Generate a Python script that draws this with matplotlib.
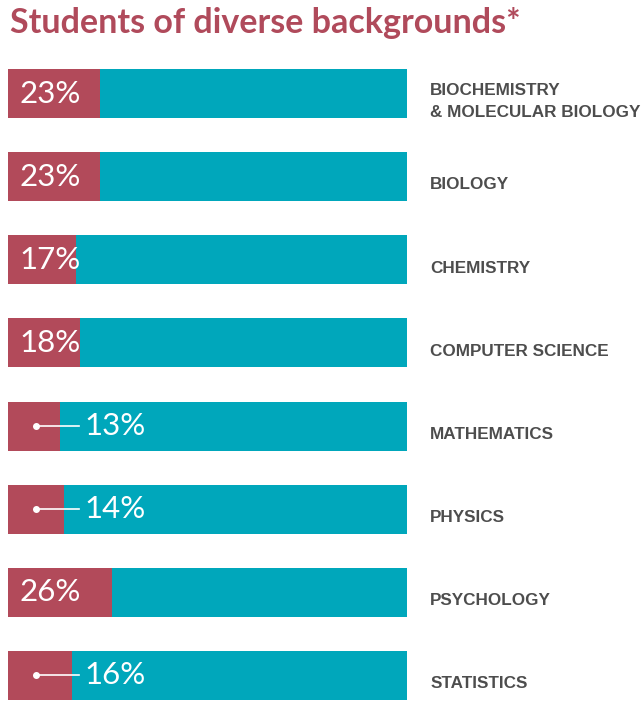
import matplotlib.pyplot as plt
import matplotlib.transforms as mtransforms

# Share of students of diverse backgrounds per department (%)
departments = ['BIOCHEMISTRY\n& MOLECULAR BIOLOGY', 'BIOLOGY', 'CHEMISTRY', 'COMPUTER SCIENCE',
               'MATHEMATICS', 'PHYSICS', 'PSYCHOLOGY', 'STATISTICS']
shares = [23, 23, 17, 18, 13, 14, 26, 16]

red = '#B24A5A'
teal = '#00A7BB'
grey = '#4D4D4D'

fig = plt.figure(figsize=(6.43, 7.03), dpi=100)
ax = fig.add_axes([8 / 643, 3 / 703, 399 / 643, 631 / 703])

y = list(range(len(departments)))
ax.barh(y, [100] * len(y), height=0.59, color=teal)
ax.barh(y, shares, height=0.59, color=red)
ax.set_xlim(0, 100)
ax.set_ylim(len(y) - 1 + 0.295, -0.295)
ax.axis('off')

lbl = mtransforms.blended_transform_factory(ax.transAxes, ax.transData)
for yi, dep, s in zip(y, departments, shares):
    if s >= 17:
        ax.text(2.8, yi, f'{s}%', color='white', fontsize=22.5, fontfamily='Lato',
                va='center', ha='left')
    else:
        # small share: leader line from the red segment out into the teal part
        ax.plot([7, 17.8], [yi, yi], color='white', lw=1.2)
        ax.plot([7], [yi], 'o', color='white', ms=4)
        ax.text(19.2, yi, f'{s}%', color='white', fontsize=22.5, fontfamily='Lato',
                va='center', ha='left')
    ax.text(1.058, yi + 0.1, dep, transform=lbl, color=grey, fontsize=12.3,
            fontfamily='Liberation Sans', fontweight='bold', va='center', ha='left',
            linespacing=1.6, clip_on=False)

fig.text(10 / 643, 1 - 33 / 703, 'Students of diverse backgrounds*', color='#B04A5B',
         fontsize=24.5, fontfamily='Lato', fontweight='bold', va='baseline', ha='left')

fig.savefig('out.png', dpi=100)
